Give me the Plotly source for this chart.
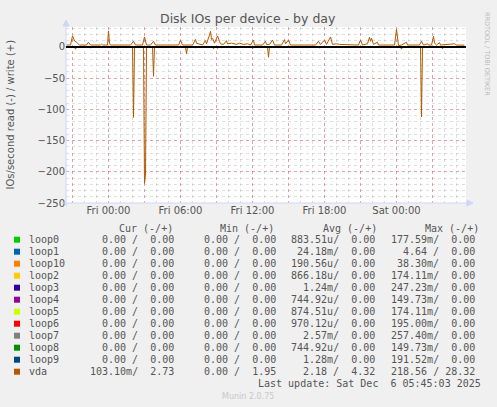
import plotly.graph_objects as go

# vda write (+) samples
write_times = [
    "2025-12-04 20:30", "2025-12-04 20:50", "2025-12-04 21:00", "2025-12-04 21:10", "2025-12-04 21:20",
    "2025-12-04 21:35", "2025-12-04 22:10", "2025-12-04 22:20", "2025-12-04 22:30", "2025-12-04 23:20",
    "2025-12-04 23:25", "2025-12-04 23:30", "2025-12-04 23:55", "2025-12-05 00:00", "2025-12-05 00:05",
    "2025-12-05 00:10", "2025-12-05 01:50", "2025-12-05 02:05", "2025-12-05 02:15", "2025-12-05 02:50",
    "2025-12-05 03:00", "2025-12-05 03:10", "2025-12-05 03:30", "2025-12-05 03:45", "2025-12-05 03:55",
    "2025-12-05 05:50", "2025-12-05 06:00", "2025-12-05 06:10", "2025-12-05 07:00", "2025-12-05 07:15",
    "2025-12-05 07:20", "2025-12-05 07:35", "2025-12-05 07:50", "2025-12-05 08:05", "2025-12-05 08:10",
    "2025-12-05 08:25", "2025-12-05 08:30", "2025-12-05 08:35", "2025-12-05 08:40", "2025-12-05 08:50",
    "2025-12-05 09:05", "2025-12-05 09:15", "2025-12-05 09:20", "2025-12-05 09:35", "2025-12-05 09:50",
    "2025-12-05 09:55", "2025-12-05 10:15", "2025-12-05 10:40", "2025-12-05 10:55", "2025-12-05 11:15",
    "2025-12-05 11:35", "2025-12-05 11:50", "2025-12-05 12:05", "2025-12-05 12:10", "2025-12-05 12:50",
    "2025-12-05 13:05", "2025-12-05 13:10", "2025-12-05 13:25", "2025-12-05 13:40", "2025-12-05 13:50",
    "2025-12-05 14:25", "2025-12-05 14:40", "2025-12-05 14:45", "2025-12-05 15:00", "2025-12-05 15:10",
    "2025-12-05 17:15", "2025-12-05 17:30", "2025-12-05 17:40", "2025-12-05 18:00", "2025-12-05 18:10",
    "2025-12-05 18:30", "2025-12-05 18:40", "2025-12-05 19:00", "2025-12-05 19:15", "2025-12-05 19:40",
    "2025-12-05 20:50", "2025-12-05 21:00", "2025-12-05 21:10", "2025-12-05 21:35", "2025-12-05 21:45",
    "2025-12-05 21:50", "2025-12-05 21:55", "2025-12-05 22:05", "2025-12-05 22:25", "2025-12-05 22:30",
    "2025-12-05 23:50", "2025-12-06 00:00", "2025-12-06 00:10", "2025-12-06 00:25", "2025-12-06 00:50",
    "2025-12-06 00:55", "2025-12-06 01:55", "2025-12-06 02:05", "2025-12-06 02:15", "2025-12-06 02:35",
    "2025-12-06 02:40", "2025-12-06 02:55", "2025-12-06 03:05", "2025-12-06 03:10", "2025-12-06 03:20",
    "2025-12-06 03:35", "2025-12-06 03:40", "2025-12-06 04:50", "2025-12-06 05:00", "2025-12-06 05:40",
]
write_vals = [
    3, 3, 17.6, 9.6, 7.5,
    3, 3, 7.5, 3, 3,
    4.3, 3, 3, 25.6, 6,
    3, 3, 9, 3, 3,
    16, 3, 3, 9, 3,
    3, 10.7, 3, 3, 12,
    6, 4, 3, 10, 5,
    19, 25, 12, 14, 6,
    17.6, 9, 5, 4, 10,
    5, 6, 4, 6, 4,
    5, 3, 11, 3, 3,
    9, 4, 4, 11, 3,
    3, 11.7, 5, 11, 3,
    3, 9, 4, 11, 4,
    16, 4, 5, 4, 4,
    3, 11, 3, 5, 15.5,
    9, 14, 4, 7.5, 3,
    3, 28.3, 2, 3, 7.5,
    3, 3, 9, 3, 5,
    3, 3, 17, 6, 3,
    7, 3, 5, 3, 2.7,
]

# vda read (-) samples, plotted below zero
read_times = [
    "2025-12-04 20:30", "2025-12-04 21:10", "2025-12-04 21:15", "2025-12-04 21:20", "2025-12-04 22:25",
    "2025-12-04 22:30", "2025-12-04 22:35", "2025-12-05 00:10", "2025-12-05 00:15", "2025-12-05 00:20",
    "2025-12-05 00:40", "2025-12-05 00:45", "2025-12-05 00:50", "2025-12-05 01:20", "2025-12-05 01:25",
    "2025-12-05 01:30", "2025-12-05 02:00", "2025-12-05 02:05", "2025-12-05 02:10", "2025-12-05 02:55",
    "2025-12-05 03:00", "2025-12-05 03:05", "2025-12-05 03:10", "2025-12-05 03:40", "2025-12-05 03:45",
    "2025-12-05 03:50", "2025-12-05 06:25", "2025-12-05 06:30", "2025-12-05 06:35", "2025-12-05 07:10",
    "2025-12-05 07:15", "2025-12-05 07:20", "2025-12-05 08:40", "2025-12-05 08:45", "2025-12-05 08:50",
    "2025-12-05 09:00", "2025-12-05 09:05", "2025-12-05 09:10", "2025-12-05 11:55", "2025-12-05 12:00",
    "2025-12-05 12:05", "2025-12-05 13:15", "2025-12-05 13:20", "2025-12-05 13:25", "2025-12-05 17:30",
    "2025-12-05 17:35", "2025-12-05 17:40", "2025-12-06 00:20", "2025-12-06 00:25", "2025-12-06 00:30",
    "2025-12-06 02:00", "2025-12-06 02:05", "2025-12-06 02:10", "2025-12-06 03:45", "2025-12-06 03:50",
    "2025-12-06 03:55", "2025-12-06 05:40",
]
read_vals = [
    0, 0, 3.7, 0, 0,
    2, 0, 0, 2, 0,
    0, 1.5, 0, 0, 1,
    0, 0, 113, 0, 0,
    218.6, 205, 0, 0, 47,
    0, 0, 11, 0, 0,
    2, 0, 0, 3, 0,
    0, 2.5, 0, 0, 3,
    0, 0, 16.5, 0, 0,
    2, 0, 0, 3.5, 0,
    0, 112, 0, 0, 3,
    0, 0.1,
]

# legend table
names = ["loop0", "loop1", "loop10", "loop2", "loop3", "loop4",
         "loop5", "loop6", "loop7", "loop8", "loop9", "vda"]
colors = ["#00CC00", "#0066B3", "#FF8000", "#FFCC00", "#330099", "#990099",
          "#CCFF00", "#FF0000", "#808080", "#008F00", "#00487D", "#B35A00"]
cur_read = [0, 0, 0, 0, 0, 0, 0, 0, 0, 0, 0, 103.10e-3]
cur_write = [0, 0, 0, 0, 0, 0, 0, 0, 0, 0, 0, 2.73]
min_read = [0, 0, 0, 0, 0, 0, 0, 0, 0, 0, 0, 0]
min_write = [0, 0, 0, 0, 0, 0, 0, 0, 0, 0, 0, 1.95]
avg_read = [883.51e-6, 24.18e-3, 190.56e-6, 866.18e-6, 1.24e-3, 744.92e-6,
            874.51e-6, 970.12e-6, 2.57e-3, 744.92e-6, 1.28e-3, 2.18]
avg_write = [0, 0, 0, 0, 0, 0, 0, 0, 0, 0, 0, 4.32]
max_read = [177.59e-3, 4.64, 38.30e-3, 174.11e-3, 247.23e-3, 149.73e-3,
            174.11e-3, 195.00e-3, 257.40e-3, 149.73e-3, 191.52e-3, 218.56]
max_write = [0, 0, 0, 0, 0, 0, 0, 0, 0, 0, 0, 28.32]

y_ticks = [-250, -200, -150, -100, -50, 0]
x_ticks = ["2025-12-04 21:00", "2025-12-05 00:00", "2025-12-05 03:00", "2025-12-05 06:00",
           "2025-12-05 09:00", "2025-12-05 12:00", "2025-12-05 15:00", "2025-12-05 18:00",
           "2025-12-05 21:00", "2025-12-06 00:00", "2025-12-06 03:00"]
x_labels = ["", "Fri 00:00", "", "Fri 06:00", "", "Fri 12:00", "", "Fri 18:00", "", "Sat 00:00", ""]

W, H = 497, 407
L, R, T, B = 66, 466, 27, 203
FONT = "#555555"
NB = "\u00a0"


def px(x):
    return (x - L) / (R - L)


def py(y):
    return (B - y) / (B - T)


def fmt(v):
    # rrdtool style %6.2lf%s
    if v == 0:
        return "0.00", " "
    if v < 1e-3:
        return "%.2f" % (v * 1e6), "u"
    if v < 1:
        return "%.2f" % (v * 1e3), "m"
    return "%.2f" % v, " "


def pair(r, w):
    a, ua = fmt(r)
    b, ub = fmt(w)
    return (a + ua + "/" + " " * (6 - len(b)) + b).replace(" ", NB)


fig = go.Figure()
fig.add_trace(go.Scatter(x=write_times, y=write_vals, mode="lines",
                         line=dict(color="#B35A00", width=1), showlegend=False))
fig.add_trace(go.Scatter(x=read_times, y=[-v for v in read_vals], mode="lines",
                         line=dict(color="#B35A00", width=1), showlegend=False))

grid_minor = "rgba(150,150,150,0.3)"
grid_major = "rgba(230,60,60,0.36)"

fig.update_xaxes(
    type="date", range=["2025-12-04 20:27:30", "2025-12-06 05:47:30"],
    tickmode="array", tickvals=x_ticks, ticktext=x_labels,
    showgrid=True, gridcolor=grid_major, griddash="dot", gridwidth=1,
    minor=dict(dtick=3600000, tick0="2025-12-04 21:00", showgrid=True,
               gridcolor=grid_minor, griddash="dot", gridwidth=1),
    showline=False, zeroline=False, ticks="",
    tickfont=dict(family="DejaVu Sans", size=10, color=FONT),
)
fig.update_yaxes(
    range=[-250, 31.9], tickmode="array", tickvals=y_ticks,
    showgrid=True, gridcolor=grid_major, griddash="dot", gridwidth=1,
    minor=dict(dtick=10, tick0=0, showgrid=True, gridcolor=grid_minor,
               griddash="dot", gridwidth=1),
    showline=False, zeroline=False, ticks="",
    tickfont=dict(family="DejaVu Sans", size=10, color=FONT),
)

axis_c = "#CFD6F8"
shapes = [
    # left axis + arrow
    dict(type="line", x0=px(66), x1=px(66), y0=py(206), y1=py(24), line=dict(color=axis_c, width=1)),
    dict(type="path", path="M %f %f L %f %f L %f %f Z" % (px(63), py(26), px(69), py(26), px(66), py(20)),
         fillcolor=axis_c, line=dict(color=axis_c, width=1)),
    # bottom axis + arrow
    dict(type="line", x0=px(62), x1=px(468), y0=py(203), y1=py(203), line=dict(color=axis_c, width=1)),
    dict(type="path", path="M %f %f L %f %f L %f %f Z" % (px(467), py(200), px(467), py(206), px(473), py(203)),
         fillcolor=axis_c, line=dict(color=axis_c, width=1)),
    # zero line
    dict(type="line", x0=0, x1=1, y0=0, y1=0, xref="paper", yref="y",
         line=dict(color="black", width=2), layer="above"),
]
for s in shapes:
    s.setdefault("xref", "paper")
    s.setdefault("yref", "paper")

annotations = []


def text(x, y, s, size=10, color=FONT, family="DejaVu Sans Mono", anchor="left", angle=0):
    annotations.append(dict(x=px(x), y=py(y), xref="paper", yref="paper", text=s,
                            showarrow=False, xanchor=anchor, yanchor="middle", textangle=angle,
                            font=dict(family=family, size=size, color=color)))


text(248, 18, "Disk IOs per device - by day", size=12.5, family="DejaVu Sans", anchor="center")
text(10, 114.5, "IOs/second read (-) / write (+)", size=10, family="DejaVu Sans", anchor="center", angle=-90)
text(487, 54, "RRDTOOL / TOBI OETIKER", size=6.5, color="#BBBBBB", family="DejaVu Sans",
     anchor="center", angle=90)

for hx, h in zip([116.7, 218, 320.7, 422.7], ["Cur (-/+)", "Min (-/+)", "Avg (-/+)", "Max (-/+)"]):
    text(hx, 228, h.replace(" ", NB))

for i, n in enumerate(names):
    yy = 239.7 + 12 * i
    shapes.append(dict(type="rect", xref="paper", yref="paper", x0=px(14), x1=px(20),
                       y0=py(yy + 3), y1=py(yy - 3), fillcolor=colors[i], line=dict(width=0)))
    text(26.5, yy, n)
    text(176, yy, pair(cur_read[i], cur_write[i]), anchor="right")
    text(278, yy, pair(min_read[i], min_write[i]), anchor="right")
    text(377, yy, pair(avg_read[i], avg_write[i]), anchor="right")
    text(477, yy, pair(max_read[i], max_write[i]), anchor="right")

text(482.7, 383.5, "Last update: Sat Dec  6 05:45:03 2025".replace(" ", NB), anchor="right")
text(248, 396, "Munin 2.0.75", size=8, color="#C8C8C8", family="DejaVu Sans", anchor="center")

fig.update_layout(
    width=W, height=H,
    margin=dict(l=L, r=W - R, t=T, b=H - B, autoexpand=False),
    paper_bgcolor="#F0F0F0", plot_bgcolor="#FFFFFF",
    showlegend=False, shapes=shapes, annotations=annotations,
)

# the page body has a default 8px margin; drop it so the figure sits at the corner
fig.write_html("out.html", config={"displayModeBar": False},
               post_script="document.body.style.margin='0';"
                           "document.body.style.background='#F0F0F0';")
